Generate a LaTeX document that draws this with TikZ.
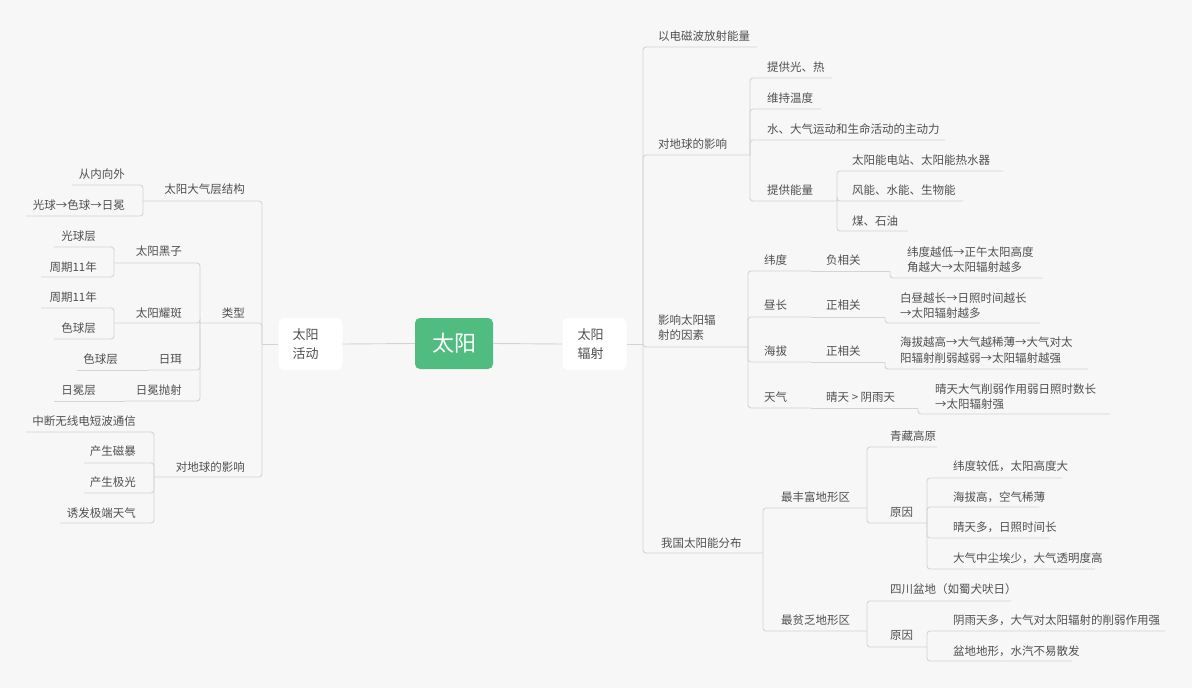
\documentclass[tikz,border=0pt]{standalone}
\usepackage{fontspec}
\setmainfont{Noto Sans CJK SC}
\definecolor{bgc}{HTML}{F7F7F7}
\definecolor{linec}{HTML}{D4D4D4}
\definecolor{txt}{HTML}{505050}
\definecolor{sungreen}{HTML}{50BC80}
\newcommand\rnode[6]{\node[lbl,anchor=west,align=left] (#1) at (#2,#3) {#6}; \coordinate (#1-e) at (#5,#4);}
\newcommand\lnode[6]{\node[lbl,anchor=east,align=right] (#1) at (#2,#3) {#6}; \coordinate (#1-e) at (#5,#4);}
\tikzset{
  lbl/.style={inner sep=0pt, text=txt, font=\fontsize{11.5}{15.5}\selectfont},
  conn/.style={draw=linec, line width=0.9pt, rounded corners=3pt},
  plain/.style={draw=linec, line width=0.9pt},
  rootbox/.style={fill=sungreen, rounded corners=5pt, minimum width=78pt, minimum height=51pt, text=white, font=\fontsize{22}{26}\selectfont, inner sep=0pt},
  mainbox/.style={fill=white, rounded corners=6pt, minimum width=64pt, minimum height=52pt, text=txt, font=\fontsize{13}{19}\selectfont, align=left, text width=36pt, inner xsep=14pt, inner ysep=0pt}
}
\begin{document}
\begin{tikzpicture}[x=1pt,y=-1pt]
\fill[bgc] (0,0) rectangle (1192,688);
\useasboundingbox (0,0) rectangle (1192,688);

% central
\node[rootbox] (root) at (454,343.5) {太阳};
\node[mainbox] (L) at (310.5,344) {太阳\\活动};
\node[mainbox, text width=34pt] (R) at (594.5,344) {太阳\\辐射};
\coordinate (L-e) at (262,344);
\coordinate (R-e) at (643,344);
\draw[plain] (L.east) -- (root.west);
\draw[plain] (root.east) -- (R.west);
\draw[plain] (R.east) -- (R-e);
\draw[plain] (L.west) -- (L-e);

% ---------------- right side ----------------
\rnode{r1}{658}{36}{47}{757}{以电磁波放射能量}
\rnode{r2}{658}{144}{155}{750}{对地球的影响}
\rnode{r21}{767}{67}{78}{832}{提供光、热}
\rnode{r22}{767}{98}{109}{821}{维持温度}
\rnode{r23}{767}{129}{140}{945}{水、大气运动和生命活动的主动力}
\rnode{r24}{767}{190}{201}{837}{提供能量}
\rnode{r241}{852}{160}{171}{1003}{太阳能电站、太阳能热水器}
\rnode{r242}{852}{190}{201}{963}{风能、水能、生物能}
\rnode{r243}{852}{221}{231}{908}{煤、石油}
\rnode{r3}{658}{327.5}{347}{748}{影响太阳辐\\射的因素}
\rnode{r31}{764}{260}{271}{811}{纬度}
\rnode{r311}{826}{260}{271}{890}{负相关}
\rnode{r3111}{907}{259.5}{278}{1043}{纬度越低→正午太阳高度\\角越大→太阳辐射越多}
\rnode{r32}{764}{305}{317}{811}{昼长}
\rnode{r321}{826}{305}{317}{885}{正相关}
\rnode{r3211}{900}{305.5}{323}{1040}{白昼越长→日照时间越长\\→太阳辐射越多}
\rnode{r33}{764}{351}{362}{811}{海拔}
\rnode{r331}{826}{351}{362}{885}{正相关}
\rnode{r3311}{900}{350}{369}{1088}{海拔越高→大气越稀薄→大气对太\\阳辐射削弱越弱→太阳辐射越强}
\rnode{r34}{764}{397}{408}{811}{天气}
\rnode{r341}{826}{397}{408}{918}{晴天 > 阴雨天}
\rnode{r3411}{935}{396.5}{414}{1110}{晴天大气削弱作用弱日照时数长\\→太阳辐射强}
\rnode{r4}{661}{543}{553}{763}{我国太阳能分布}
\rnode{r41}{781}{497}{508}{867}{最丰富地形区}
\rnode{r411}{890}{436}{447}{937}{青藏高原}
\rnode{r412}{890}{512}{523}{927}{原因}
\rnode{r4121}{953}{466}{478}{1062}{纬度较低，太阳高度大}
\rnode{r4122}{953}{497}{507}{1039}{海拔高，空气稀薄}
\rnode{r4123}{953}{527}{538}{1049}{晴天多，日照时间长}
\rnode{r4124}{953}{558}{569}{1095}{大气中尘埃少，大气透明度高}
\rnode{r42}{781}{620}{631}{867}{最贫乏地形区}
\rnode{r421}{890}{589}{601}{1011}{四川盆地（如蜀犬吠日）}
\rnode{r422}{890}{635}{647}{927}{原因}
\rnode{r4221}{953}{620}{631}{1165}{阴雨天多，大气对太阳辐射的削弱作用强}
\rnode{r4222}{953}{651}{661}{1072}{盆地地形，水汽不易散发}

\foreach \c in {r1,r2,r3,r4} \draw[conn] (R-e) |- (\c-e);
\foreach \c in {r21,r22,r23,r24} \draw[conn] (r2-e) |- (\c-e);
\foreach \c in {r241,r242,r243} \draw[conn] (r24-e) |- (\c-e);
\foreach \c in {r31,r32,r33,r34} \draw[conn] (r3-e) |- (\c-e);
\draw[plain] (r31-e) -- (r311-e);
\draw[plain] (r32-e) -- (r321-e);
\draw[plain] (r33-e) -- (r331-e);
\draw[plain] (r34-e) -- (r341-e);
\draw[conn] (r311-e) |- (r3111-e);
\draw[conn] (r321-e) |- (r3211-e);
\draw[conn] (r331-e) |- (r3311-e);
\draw[conn] (r341-e) |- (r3411-e);
\foreach \c in {r41,r42} \draw[conn] (r4-e) |- (\c-e);
\foreach \c in {r411,r412} \draw[conn] (r41-e) |- (\c-e);
\foreach \c in {r4121,r4122,r4123,r4124} \draw[conn] (r412-e) |- (\c-e);
\foreach \c in {r421,r422} \draw[conn] (r42-e) |- (\c-e);
\foreach \c in {r4221,r4222} \draw[conn] (r422-e) |- (\c-e);

% ---------------- left side ----------------
\lnode{l1}{245}{189}{201}{143}{太阳大气层结构}
\lnode{l11}{125}{174}{185}{72}{从内向外}
\lnode{l12}{125}{205}{216}{26}{光球→色球→日冕}
\lnode{l2}{245}{313}{323}{200}{类型}
\lnode{l21}{182}{251}{263}{114}{太阳黑子}
\lnode{l211}{96}{236}{247}{54}{光球层}
\lnode{l212}{97}{267}{277}{41}{周期11年}
\lnode{l22}{182}{313}{323}{114}{太阳耀斑}
\lnode{l221}{97}{297}{308}{41}{周期11年}
\lnode{l222}{96}{328}{339}{54}{色球层}
\lnode{l23}{182}{359}{370}{148}{日珥}
\lnode{l231}{118}{359}{370}{77}{色球层}
\lnode{l24}{182}{390}{401}{125}{日冕抛射}
\lnode{l241}{96}{390}{401}{54}{日冕层}
\lnode{l3}{245}{467}{477}{154}{对地球的影响}
\lnode{l31}{136}{421}{432}{26}{中断无线电短波通信}
\lnode{l32}{136}{451}{463}{84}{产生磁暴}
\lnode{l33}{136}{482}{493}{84}{产生极光}
\lnode{l34}{136}{513}{523}{60}{诱发极端天气}

\foreach \c in {l1,l2,l3} \draw[conn] (L-e) |- (\c-e);
\foreach \c in {l11,l12} \draw[conn] (l1-e) |- (\c-e);
\foreach \c in {l21,l22,l23,l24} \draw[conn] (l2-e) |- (\c-e);
\foreach \c in {l211,l212} \draw[conn] (l21-e) |- (\c-e);
\foreach \c in {l221,l222} \draw[conn] (l22-e) |- (\c-e);
\draw[plain] (l23-e) -- (l231-e);
\draw[plain] (l24-e) -- (l241-e);
\foreach \c in {l31,l32,l33,l34} \draw[conn] (l3-e) |- (\c-e);
\end{tikzpicture}
\end{document}
